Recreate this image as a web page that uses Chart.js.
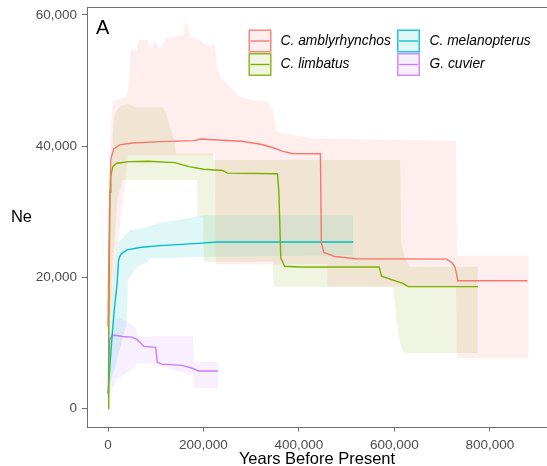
<!DOCTYPE html>
<html>
<head>
<meta charset="utf-8">
<script src="https://cdn.jsdelivr.net/npm/chart.js@4.4.1/dist/chart.umd.min.js"></script>
<style>
  html, body { margin: 0; padding: 0; background: #fff; overflow: hidden; }
  #chart { display: block; }
</style>
</head>
<body>
<canvas id="chart" width="547" height="466"></canvas>
<script>
// tick labels and species
const xTicks = [0, 200000, 400000, 600000, 800000];
const yTicks = [0, 20000, 40000, 60000];
const species = ['C. amblyrhynchos', 'C. limbatus', 'C. melanopterus', 'G. cuvier'];
const colours = ['#F8766D', '#7CAE00', '#00BFC4', '#C77CFF'];

// median Ne, [years, Ne]
const amblyLine = [[0, 12500], [3000, 30000], [6000, 38000], [12000, 39600], [24000, 40200], [50000, 40500],
    [110000, 40700], [180000, 40850], [195000, 41100], [240000, 40900], [280000, 40750], [320000, 40300],
    [345000, 39800], [365000, 39250], [385000, 38900], [445000, 38850], [447000, 25300], [452000, 23800],
    [475000, 23200], [520000, 22850], [709000, 22800], [720000, 22300], [727000, 21600], [733000, 19500], [879000, 19500]];
const limbLine = [[0, 0], [1500, 10000], [3000, 24000], [4500, 33000], [6000, 35500], [10000, 36900], [18000, 37400],
    [45000, 37650], [85000, 37700], [140000, 37500], [170000, 36900], [200000, 36500], [240000, 36300], [250000, 35900],
    [355000, 35800], [358000, 33000], [362000, 23000], [370000, 21700], [400000, 21600], [568000, 21600], [573000, 20200],
    [597000, 19600], [618000, 19100], [629000, 18600], [775000, 18600]];
const melaLine = [[0, 2300], [4000, 6500], [8000, 10500], [13000, 15000], [19000, 19000], [22000, 22500], [24000, 23100],
    [28000, 23600], [40000, 24200], [70000, 24600], [110000, 24850], [180000, 25150], [230000, 25400], [514000, 25400]];
const cuviLine = [[0, 1800], [1000, 6000], [3500, 10500], [8000, 11100], [15000, 11200], [30000, 11000], [50000, 10900],
    [62000, 10500], [75000, 9500], [100000, 9350], [103000, 7100], [112000, 6800], [155000, 6600], [175000, 6200],
    [190000, 5750], [231000, 5750]];

// confidence bands
const amblyHigh = [[0, 14000], [2000, 25000], [4000, 38000], [7000, 44000], [11000, 47000], [39000, 47500], [44000, 49600],
    [48000, 54700], [60000, 54700], [66000, 56200], [84000, 56200], [88000, 54800], [98000, 56000], [109000, 54800],
    [123000, 56500], [136000, 56700], [158000, 57000], [161000, 58500], [168000, 58500], [172000, 56500], [186000, 56450],
    [199000, 55700], [214000, 55200], [224000, 55700], [228000, 52100], [235000, 50500], [248000, 49600], [276000, 47500],
    [304000, 47000], [332000, 46800], [346000, 45500], [352000, 42200], [387000, 41700], [423000, 41200], [729000, 40800],
    [731000, 23300], [881000, 23300]];
const amblyLow = [[0, 11000], [3000, 12500], [8000, 15000], [15000, 20000], [25000, 28000], [35000, 34000], [42000, 38600],
    [224000, 38600], [226000, 22000], [458000, 22000], [460000, 18600], [729000, 18600], [731000, 7700], [881000, 7700]];
const limbHigh = [[0, 3000], [3000, 15000], [6000, 30000], [10000, 42000], [14000, 45000], [25000, 46000], [40000, 46500],
    [60000, 45900], [115000, 45900], [122000, 45000], [130000, 43000], [140000, 40800], [142000, 38900], [220000, 38900],
    [222000, 37900], [612000, 37900], [614000, 25300], [622000, 23000], [632000, 21640], [775000, 21640]];
const limbLow = [[0, 0], [4000, 10000], [10000, 22000], [20000, 32000], [30000, 34850], [186000, 34850], [188000, 29300],
    [199000, 29300], [201000, 22400], [345000, 22400], [347000, 18600], [598000, 18600], [605000, 13000], [612000, 10000],
    [620000, 8500], [775000, 8500]];
const melaHigh = [[0, 2500], [4000, 10000], [10000, 18000], [15000, 22000], [22000, 25400], [46000, 27200], [81000, 27700],
    [109000, 28300], [165000, 29000], [200000, 29500], [514000, 29500]];
const melaLow = [[0, 1800], [3000, 3500], [15000, 6400], [39000, 13000], [42000, 19600], [60000, 21640], [84000, 22400],
    [88000, 22900], [200000, 23160], [514000, 23400]];
const cuviHigh = [[0, 3000], [3000, 10000], [10000, 13500], [25000, 13800], [46000, 13000], [57000, 12500], [62000, 11000],
    [178000, 11000], [180000, 7100], [231000, 7100]];
const cuviLow = [[0, 1500], [5000, 2500], [20000, 4500], [56000, 6400], [60000, 6900], [95000, 6900], [109000, 6400],
    [165000, 5400], [178000, 5300], [180000, 3100], [231000, 3100]];

const lines = [amblyLine, limbLine, melaLine, cuviLine];
const highs = [amblyHigh, limbHigh, melaHigh, cuviHigh];
const lows = [amblyLow, limbLow, melaLow, cuviLow];

const FONT = '"Liberation Sans", Arial, Helvetica, sans-serif';
const AXIS_GREY = '#6e6e6e';

function toXY(pts) {
    return pts.map(p => ({x: p[0], y: p[1]}));
}
function alpha(hex, a) {
    const n = parseInt(hex.slice(1), 16);
    return 'rgba(' + (n >> 16) + ',' + ((n >> 8) & 255) + ',' + (n & 255) + ',' + a + ')';
}

const datasets = [];
species.forEach(function (name, i) {
    datasets.push({
        label: name,
        data: toXY(lines[i]),
        borderColor: colours[i],
        borderWidth: 1.4,
        pointRadius: 0,
        fill: false,
        tension: 0,
        order: 0
    });
});
species.forEach(function (name, i) {
    datasets.push({
        label: name + ' upper',
        data: toXY(highs[i]),
        borderWidth: 0,
        borderColor: 'rgba(0,0,0,0)',
        backgroundColor: alpha(colours[i], 0.12),
        pointRadius: 0,
        fill: '+1',
        tension: 0,
        order: 1
    });
    datasets.push({
        label: name + ' lower',
        data: toXY(lows[i]),
        borderWidth: 0,
        borderColor: 'rgba(0,0,0,0)',
        pointRadius: 0,
        fill: false,
        tension: 0,
        order: 1
    });
});

// panel top border, panel tag, y title and the 2x2 legend
const decor = {
    id: 'decor',
    afterDraw(chart) {
        const ctx = chart.ctx;
        const area = chart.chartArea;
        ctx.save();
        ctx.strokeStyle = AXIS_GREY;
        ctx.lineWidth = 1;
        ctx.beginPath();
        ctx.moveTo(area.left, area.top + 0.5);
        ctx.lineTo(area.right, area.top + 0.5);
        ctx.stroke();

        ctx.fillStyle = '#000';
        ctx.textBaseline = 'alphabetic';
        ctx.textAlign = 'left';
        ctx.font = '20px ' + FONT;
        ctx.fillText('A', 96, 34);

        ctx.textAlign = 'center';
        ctx.textBaseline = 'middle';
        ctx.font = '16.5px ' + FONT;
        ctx.fillText('Ne', 21.5, (area.top + area.bottom) / 2);

        const keyX = [248.5, 397];
        const textX = [280.5, 429.5];
        const keyY = [29.5, 53];
        const size = 23;
        ctx.font = 'italic 13.8px ' + FONT;
        ctx.textAlign = 'left';
        species.forEach(function (name, i) {
            const col = Math.floor(i / 2);
            const row = i % 2;
            const x = keyX[col];
            const y = keyY[row];
            ctx.fillStyle = alpha(colours[i], 0.12);
            ctx.fillRect(x, y, size, size);
            ctx.strokeStyle = alpha(colours[i], 0.85);
            ctx.lineWidth = 1.5;
            ctx.strokeRect(x + 0.75, y + 0.75, size - 1.5, size - 1.5);
            ctx.strokeStyle = colours[i];
            ctx.lineWidth = 1.3;
            ctx.beginPath();
            ctx.moveTo(x + 2, y + size / 2);
            ctx.lineTo(x + size - 2, y + size / 2);
            ctx.stroke();
            ctx.fillStyle = '#000';
            ctx.fillText(name, textX[col], y + size / 2);
        });
        ctx.restore();
    }
};

new Chart(document.getElementById('chart'), {
    type: 'line',
    data: {datasets: datasets},
    options: {
        responsive: false,
        animation: false,
        devicePixelRatio: 1,
        layout: {padding: {top: 7, right: 0, bottom: 0, left: 0}},
        plugins: {
            legend: {display: false},
            tooltip: {enabled: false}
        },
        scales: {
            x: {
                type: 'linear',
                min: -44000,
                max: 919700,
                afterBuildTicks: function (scale) {
                    scale.ticks = xTicks.map(v => ({value: v}));
                },
                afterFit: function (scale) {
                    scale.height = 39;
                    scale.paddingLeft = 0;
                    scale.paddingRight = 0;
                },
                border: {display: true, color: AXIS_GREY, width: 1},
                grid: {display: true, drawOnChartArea: false, drawTicks: true, tickLength: 4.5, color: AXIS_GREY},
                ticks: {
                    autoSkip: false,
                    maxRotation: 0,
                    padding: 7,
                    color: '#4d4d4d',
                    font: {family: FONT, size: 13.5, lineHeight: 1},
                    callback: v => v.toLocaleString('en-US')
                },
                title: {
                    display: true,
                    text: 'Years Before Present',
                    color: '#000',
                    padding: {top: 0, bottom: 0},
                    font: {family: FONT, size: 16.5, lineHeight: 0.8}
                }
            },
            y: {
                type: 'linear',
                min: -2789,
                max: 61218,
                afterBuildTicks: function (scale) {
                    scale.ticks = yTicks.map(v => ({value: v}));
                },
                afterFit: function (scale) {
                    scale.width = 87;
                    scale.paddingTop = 0;
                    scale.paddingBottom = 0;
                },
                border: {display: true, color: AXIS_GREY, width: 1},
                grid: {display: true, drawOnChartArea: false, drawTicks: true, tickLength: 5, color: AXIS_GREY},
                ticks: {
                    autoSkip: false,
                    padding: 5,
                    color: '#4d4d4d',
                    font: {family: FONT, size: 13.5, lineHeight: 1},
                    callback: v => v.toLocaleString('en-US')
                }
            }
        }
    },
    plugins: [decor]
});
</script>
</body>
</html>
